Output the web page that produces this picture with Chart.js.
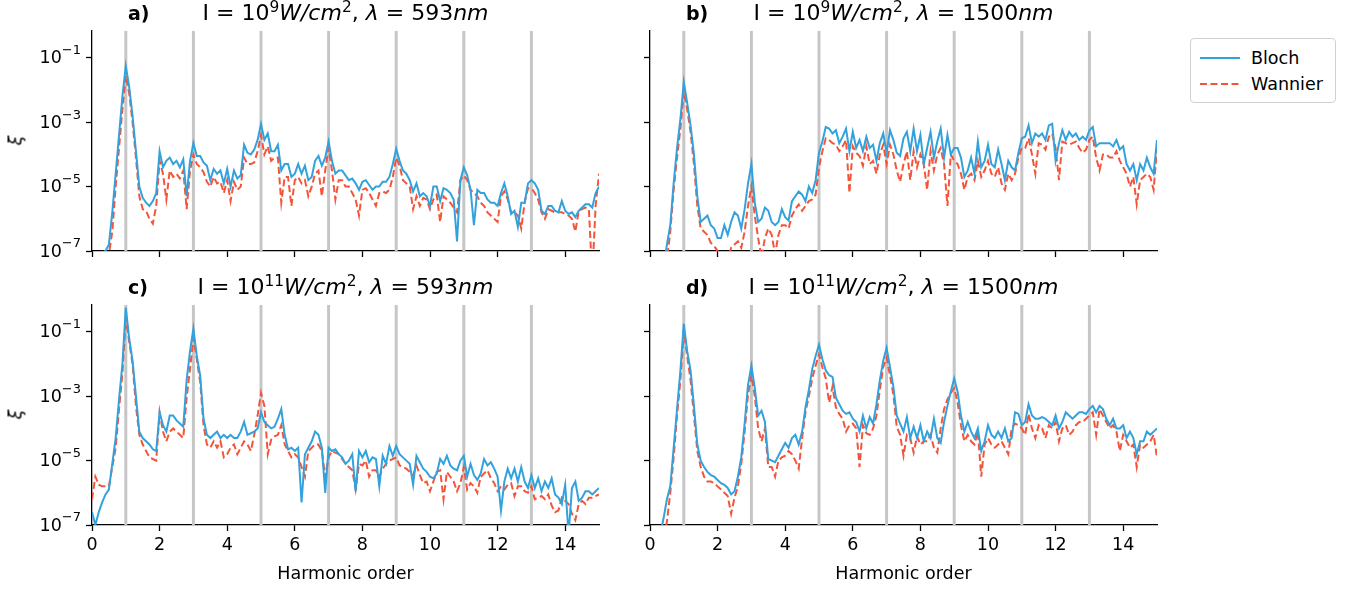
<!DOCTYPE html>
<html>
<head>
<meta charset="utf-8">
<script src="https://cdn.jsdelivr.net/npm/chart.js@4.4.1/dist/chart.umd.min.js"></script>
<style>
  body { margin: 0; background: #fff; }
  #figure { position: relative; width: 1356px; height: 589px; overflow: hidden;
            font-family: "DejaVu Sans", sans-serif; color: #000; background: #fff; }
  .panel { position: absolute; }
  .title { position: absolute; width: 507px; text-align: center; font-size: 22px;
           line-height: 26px; white-space: nowrap; }
  .title sup { font-size: 0.7em; line-height: 0; vertical-align: 0.5em; }
  .tag { position: absolute; font-size: 19px; font-weight: bold; line-height: 24px; }
  .ylabel { position: absolute; width: 30px; text-align: center; font-size: 18px;
            font-style: italic; transform: rotate(-90deg); }
  .xlabel { position: absolute; width: 507px; text-align: center; font-size: 17.5px; line-height: 22px; }
  .legend { position: absolute; left: 1190px; top: 38px; width: 144px; height: 63px;
            border: 1px solid #d0d0d0; border-radius: 4px; font-size: 17.5px; }
  .legend .row { position: absolute; left: 8px; height: 22px; line-height: 22px; }
  .legend svg { position: absolute; left: 0; top: 0; }
  .legend span { position: absolute; left: 52px; white-space: nowrap; }
</style>
</head>
<body>
<div id="figure"></div>
<script>
// sampling grid of the spectra (harmonic order, step 0.1)
const harmonicOrder = Array.from({ length: 151 }, (_, i) => i / 10);
const oddHarmonics = [1, 3, 5, 7, 9, 11, 13];
const xTickValues = [0, 2, 4, 6, 8, 10, 12, 14];
const yTickValues = [1e-7, 1e-5, 1e-3, 1e-1];
const yTickExponents = ["−7", "−5", "−3", "−1"];

// log10 of xi
// a) I = 1e9 W/cm2, 593 nm
const aBloch = [
  -7.6,-7.5,-7.3,-7.05,-7.0,-6.8,-5.8,-4.6,-3.4,-2.2,
  -1.25,-1.9,-2.8,-3.9,-5.0,-5.35,-5.5,-5.6,-5.45,-5.2,
  -3.9,-4.4,-4.2,-4.1,-4.3,-4.2,-4.4,-4.15,-5.3,-4.2,
  -3.65,-4.05,-4.05,-4.25,-4.35,-4.8,-4.45,-4.6,-4.5,-4.9,
  -4.45,-5.0,-4.5,-4.75,-4.65,-3.7,-3.95,-4.0,-3.85,-3.55,
  -3.05,-3.55,-3.35,-3.9,-3.9,-3.7,-4.5,-4.3,-4.3,-4.7,
  -4.6,-4.3,-4.6,-4.35,-4.8,-4.7,-4.2,-4.05,-4.35,-4.1,
  -3.6,-4.2,-4.6,-4.5,-4.5,-4.65,-4.8,-4.75,-4.9,-5.1,
  -4.85,-4.8,-4.95,-5.1,-5.0,-5.0,-4.85,-4.85,-4.7,-4.3,
  -3.83,-4.2,-4.5,-4.6,-4.8,-5.15,-4.9,-5.3,-5.2,-5.3,
  -5.6,-5.0,-5.0,-5.45,-5.05,-5.1,-5.2,-5.4,-6.7,-4.8,
  -4.4,-4.65,-5.1,-6.2,-5.1,-5.2,-5.2,-5.4,-5.5,-5.5,
  -5.6,-5.2,-4.9,-5.3,-5.85,-5.75,-6.25,-5.5,-5.5,-4.9,
  -4.8,-4.9,-5.1,-5.75,-5.85,-5.6,-5.6,-5.75,-5.8,-5.45,
  -5.75,-5.85,-5.8,-5.95,-5.75,-5.65,-5.55,-5.55,-5.65,-5.2,
  -5.0
];
const aWannier = [
  -8,-8,-8,-7.6,-7.3,-7.1,-6.4,-5.0,-3.8,-2.6,
  -1.55,-2.1,-3.0,-4.1,-5.3,-5.7,-5.75,-6.0,-6.15,-5.6,
  -4.2,-4.6,-5.4,-4.5,-4.7,-4.6,-4.75,-4.5,-5.7,-4.5,
  -4.0,-4.3,-4.4,-4.55,-4.85,-5.0,-4.7,-4.9,-4.85,-5.2,
  -4.8,-5.45,-4.85,-5.1,-5.0,-4.1,-4.3,-4.3,-4.25,-3.9,
  -3.4,-4.0,-3.75,-4.2,-4.1,-4.1,-5.5,-4.7,-4.7,-5.6,
  -4.8,-4.7,-4.9,-4.8,-5.3,-5.0,-4.6,-4.5,-5.3,-4.5,
  -3.8,-4.5,-5.4,-4.8,-4.8,-5.0,-5.0,-5.2,-5.4,-5.9,
  -5.1,-5.05,-5.2,-5.4,-5.6,-5.2,-5.15,-5.2,-5.1,-4.7,
  -4.1,-4.35,-4.8,-4.9,-5.0,-5.7,-5.3,-5.6,-5.35,-5.4,
  -5.7,-5.4,-5.25,-6.1,-5.3,-5.4,-5.5,-5.65,-5.8,-4.8,
  -4.65,-4.8,-5.1,-5.2,-5.3,-5.5,-5.6,-5.8,-5.9,-6.0,
  -6.1,-5.3,-5.15,-5.4,-5.8,-5.8,-5.9,-6.3,-5.5,-5.05,
  -5.05,-5.2,-5.4,-5.8,-6.0,-5.7,-5.75,-5.8,-5.8,-5.8,
  -5.85,-5.9,-6.0,-6.4,-5.75,-5.7,-5.65,-5.7,-7.8,-5.6,
  -4.6
];
// b) I = 1e9 W/cm2, 1500 nm
const bBloch = [
  -8,-8,-8,-8,-7.5,-6.8,-6.2,-4.9,-3.8,-2.9,
  -1.75,-2.4,-3.1,-4.0,-5.3,-6.1,-6.0,-5.9,-6.2,-6.3,
  -6.6,-6.6,-6.2,-6.5,-6.1,-5.8,-5.9,-6.3,-5.7,-4.9,
  -4.3,-5.5,-6.1,-6.0,-5.65,-5.75,-6.1,-6.2,-6.1,-5.7,
  -5.95,-6.05,-5.45,-5.3,-5.15,-5.25,-5.45,-5.0,-5.2,-4.8,
  -3.95,-3.6,-3.15,-3.2,-3.35,-3.25,-3.65,-3.45,-3.2,-3.9,
  -3.3,-3.8,-3.55,-3.9,-3.45,-3.8,-3.7,-4.2,-3.65,-3.35,
  -3.95,-3.25,-3.55,-3.95,-4.05,-3.5,-3.3,-3.9,-3.2,-3.9,
  -3.4,-4.3,-3.8,-3.3,-4.1,-3.6,-3.2,-4.1,-3.4,-4.0,
  -3.8,-3.8,-4.1,-4.7,-4.5,-4.1,-4.6,-3.6,-4.4,-4.2,
  -3.7,-4.3,-4.4,-3.85,-4.3,-4.8,-4.2,-4.4,-4.5,-3.95,
  -3.5,-3.45,-3.1,-3.65,-3.35,-3.45,-3.35,-3.55,-3.1,-3.05,
  -4.2,-3.65,-3.25,-3.55,-3.3,-3.45,-3.35,-3.55,-3.45,-3.55,
  -3.25,-3.15,-3.75,-3.65,-3.65,-3.65,-3.65,-3.75,-3.55,-3.85,
  -3.75,-4.3,-4.5,-4.3,-4.8,-4.3,-4.5,-4.1,-4.4,-4.6,
  -3.55
];
const bWannier = [
  -8,-8,-8,-8,-8,-7.3,-6.4,-5.1,-4.1,-3.2,
  -2.05,-2.6,-3.3,-4.3,-5.6,-6.3,-6.4,-6.5,-6.75,-6.85,
  -7.0,-7.2,-7.1,-7.3,-6.9,-6.8,-6.7,-6.9,-6.4,-5.6,
  -5.0,-5.9,-6.6,-7.2,-6.6,-6.3,-6.5,-7.1,-6.5,-6.2,
  -6.2,-6.3,-5.9,-5.7,-5.55,-5.75,-5.6,-5.45,-5.4,-5.25,
  -4.4,-3.9,-3.5,-3.55,-3.65,-3.7,-3.9,-3.75,-3.55,-5.2,
  -3.75,-3.95,-4.05,-4.35,-3.75,-4.3,-4.2,-4.6,-4.0,-3.7,
  -4.3,-3.7,-4.0,-4.5,-4.85,-4.3,-3.9,-4.8,-3.9,-4.4,
  -4.0,-4.3,-5.1,-3.9,-4.5,-4.0,-3.8,-4.3,-5.6,-4.0,
  -4.2,-4.3,-4.6,-5.1,-4.7,-4.6,-4.8,-4.2,-4.7,-4.5,
  -4.2,-4.6,-4.7,-4.4,-4.9,-5.1,-4.6,-4.8,-4.6,-4.1,
  -3.8,-3.8,-3.5,-4.0,-4.6,-3.65,-3.7,-3.85,-3.45,-3.35,
  -3.8,-4.8,-3.6,-3.65,-3.7,-3.65,-3.6,-3.8,-3.95,-3.85,
  -3.55,-3.45,-4.1,-4.5,-4.0,-4.0,-4.1,-4.1,-3.9,-4.2,
  -4.4,-4.6,-5.0,-4.7,-5.55,-4.8,-4.7,-4.6,-4.7,-5.1,
  -3.8
];
// c) I = 1e11 W/cm2, 593 nm
const cBloch = [
  -6.6,-7.0,-6.6,-6.3,-6.05,-5.9,-5.1,-4.3,-3.1,-2.0,
  -0.25,-1.2,-1.9,-3.0,-4.1,-4.3,-4.4,-4.5,-4.65,-4.7,
  -3.5,-3.9,-4.1,-3.6,-3.6,-3.75,-3.85,-3.95,-2.5,-1.6,
  -0.9,-1.75,-2.35,-3.7,-4.2,-4.3,-4.2,-4.1,-4.3,-4.2,
  -4.3,-4.2,-4.3,-4.3,-4.1,-3.8,-4.2,-4.15,-4.1,-4.0,
  -3.5,-3.8,-3.9,-4.0,-3.95,-3.7,-3.4,-4.2,-4.65,-4.6,
  -4.7,-4.6,-6.3,-4.8,-4.6,-4.4,-4.1,-4.2,-4.6,-6.0,
  -4.6,-4.7,-4.65,-4.8,-4.9,-5.1,-5.0,-4.8,-5.95,-4.7,
  -4.9,-4.7,-5.05,-4.9,-4.95,-5.8,-4.85,-5.1,-4.55,-4.85,
  -4.55,-4.8,-4.9,-5.0,-5.1,-5.75,-4.85,-5.05,-5.25,-5.35,
  -5.5,-5.55,-5.4,-4.95,-5.1,-4.85,-5.15,-5.25,-5.3,-5.0,
  -4.85,-5.5,-5.1,-5.45,-5.6,-5.4,-4.95,-5.15,-5.05,-5.25,
  -5.5,-6.55,-5.65,-5.25,-5.55,-5.25,-5.65,-5.2,-5.65,-5.85,
  -5.45,-5.85,-5.55,-5.95,-5.65,-5.85,-5.55,-6.05,-6.15,-6.35,
  -5.75,-7.3,-5.85,-5.65,-6.25,-6.15,-5.95,-5.95,-6.05,-5.95,
  -5.85
];
const cWannier = [
  -6.2,-5.5,-5.75,-5.8,-5.8,-5.8,-5.2,-4.6,-3.4,-2.3,
  -0.55,-1.3,-2.0,-3.3,-4.2,-4.5,-4.7,-4.9,-4.95,-5.0,
  -3.5,-4.1,-4.4,-4.1,-4.0,-4.1,-4.2,-4.3,-3.05,-2.15,
  -1.2,-1.85,-2.55,-3.9,-4.5,-4.6,-4.4,-4.6,-4.4,-4.9,
  -4.8,-4.6,-4.5,-4.8,-4.6,-4.4,-4.5,-4.7,-4.2,-3.6,
  -2.9,-3.3,-4.8,-4.35,-4.25,-4.2,-3.9,-4.5,-4.7,-4.9,
  -4.8,-4.9,-5.2,-5.5,-4.7,-4.6,-4.5,-4.5,-4.7,-5.5,
  -4.9,-4.7,-4.75,-4.8,-4.95,-5.1,-5.2,-5.3,-5.9,-5.1,
  -5.15,-5.0,-5.5,-5.3,-5.3,-5.5,-5.25,-5.1,-5.0,-4.95,
  -4.9,-5.15,-5.2,-5.25,-5.35,-5.45,-5.15,-5.45,-5.7,-5.65,
  -5.95,-5.65,-5.35,-5.3,-6.2,-5.35,-5.5,-5.65,-5.95,-5.7,
  -5.2,-5.9,-5.7,-5.8,-6.0,-5.5,-5.4,-5.3,-5.55,-5.7,
  -5.95,-5.8,-5.9,-5.75,-5.7,-6.1,-5.8,-5.8,-5.95,-6.0,
  -5.8,-6.2,-6.15,-6.1,-6.2,-6.05,-6.4,-6.6,-6.55,-6.15,
  -6.25,-6.35,-6.65,-6.85,-6.35,-6.25,-6.35,-6.15,-6.15,-6.1,
  -6.05
];
// d) I = 1e11 W/cm2, 1500 nm
const dBloch = [
  -8,-8,-8,-7.3,-6.8,-6.2,-5.8,-4.6,-3.4,-2.2,
  -0.75,-1.6,-2.2,-3.3,-4.5,-5.0,-5.2,-5.35,-5.45,-5.5,
  -5.6,-5.7,-5.75,-5.85,-6.05,-5.95,-5.5,-4.9,-3.85,-2.65,
  -2.05,-2.75,-3.6,-3.45,-3.8,-4.95,-5.0,-5.05,-4.85,-4.65,
  -4.45,-4.6,-4.3,-4.2,-4.5,-4.1,-3.35,-2.8,-2.15,-1.75,
  -1.4,-1.85,-2.2,-2.35,-2.4,-3.05,-3.25,-3.45,-3.55,-3.5,
  -3.7,-3.8,-4.1,-3.6,-4.0,-3.65,-3.85,-3.25,-2.5,-1.9,
  -1.5,-2.1,-2.7,-3.6,-3.85,-4.1,-3.65,-4.3,-3.95,-4.3,
  -3.9,-4.4,-4.1,-4.3,-3.7,-4.3,-4.45,-3.8,-3.3,-2.85,
  -2.45,-2.85,-3.6,-4.1,-3.8,-4.1,-4.3,-4.0,-4.7,-4.4,
  -3.9,-4.2,-4.3,-4.1,-4.3,-4.0,-4.4,-4.3,-3.5,-3.55,
  -3.9,-3.8,-3.25,-3.6,-3.7,-3.7,-3.65,-3.7,-3.8,-3.9,
  -3.6,-4.0,-3.8,-3.5,-3.6,-3.7,-3.6,-3.5,-3.5,-3.55,
  -3.4,-3.3,-3.5,-3.3,-3.4,-3.7,-3.9,-3.7,-4.0,-4.0,
  -3.9,-4.3,-4.1,-4.3,-4.8,-4.4,-4.4,-4.1,-4.2,-4.1,
  -4.0
];
const dWannier = [
  -8,-8,-8,-8,-7.5,-6.9,-6.0,-4.9,-3.6,-2.5,
  -1.0,-1.75,-2.5,-3.6,-4.7,-5.2,-5.5,-5.65,-5.65,-5.7,
  -5.8,-5.9,-6.0,-6.1,-6.65,-6.15,-5.8,-5.1,-4.1,-2.95,
  -2.35,-3.0,-4.0,-4.4,-4.0,-5.2,-5.2,-5.5,-5.0,-4.9,
  -4.85,-4.7,-4.8,-5.0,-5.25,-4.3,-3.5,-3.0,-2.45,-2.05,
  -1.7,-2.1,-2.45,-3.2,-2.7,-3.35,-3.55,-3.7,-4.1,-3.9,
  -3.85,-4.0,-5.2,-3.9,-4.15,-4.2,-4.0,-3.6,-2.8,-2.1,
  -1.8,-2.35,-2.95,-3.95,-4.2,-4.85,-4.2,-4.3,-4.75,-4.25,
  -4.5,-4.4,-4.4,-4.2,-4.6,-4.75,-4.0,-3.4,-3.1,-2.9,
  -2.75,-3.2,-3.9,-4.4,-4.2,-4.4,-4.5,-4.1,-5.5,-4.5,
  -4.3,-4.5,-4.6,-4.5,-4.4,-4.6,-4.8,-4.0,-3.85,-3.9,
  -4.0,-4.2,-3.55,-4.0,-4.3,-3.9,-4.0,-4.3,-3.9,-4.0,
  -3.8,-4.4,-4.0,-3.9,-4.2,-4.1,-3.9,-3.8,-3.8,-3.7,
  -3.6,-3.5,-4.2,-3.4,-3.6,-3.8,-4.0,-3.9,-4.1,-4.7,
  -4.2,-4.4,-4.6,-4.5,-5.2,-4.5,-4.6,-4.5,-4.4,-4.2,
  -4.9
];

const blochColor = "#33a2dc";
const wannierColor = "#f4553a";
const fontFamily = "DejaVu Sans";

const panels = [
  { tag: "a)", exp: "9", lambda: "593", bloch: aBloch, wannier: aWannier, left: 92, top: 31, showX: false, showY: true },
  { tag: "b)", exp: "9", lambda: "1500", bloch: bBloch, wannier: bWannier, left: 650, top: 31, showX: false, showY: false },
  { tag: "c)", exp: "11", lambda: "593", bloch: cBloch, wannier: cWannier, left: 92, top: 305, showX: true, showY: true },
  { tag: "d)", exp: "11", lambda: "1500", bloch: dBloch, wannier: dWannier, left: 650, top: 305, showX: true, showY: false },
];

const plotW = 507, plotH = 220;
const padL = 70, padT = 16, padR = 14, padB = 62;

// grey markers at the odd harmonics
const harmonicLines = {
  id: "harmonicLines",
  beforeDatasetsDraw(chart) {
    const { ctx, chartArea, scales } = chart;
    ctx.save();
    ctx.strokeStyle = "#c6c6c6";
    ctx.lineWidth = 3;
    for (const h of oddHarmonics) {
      const x = scales.x.getPixelForValue(h);
      ctx.beginPath();
      ctx.moveTo(x, chartArea.top);
      ctx.lineTo(x, chartArea.bottom);
      ctx.stroke();
    }
    ctx.restore();
  },
};

// "10" with a raised exponent, like matplotlib's log labels
const logTickLabels = {
  id: "logTickLabels",
  afterDraw(chart, args, opts) {
    if (!opts.show) return;
    const { ctx, chartArea, scales } = chart;
    const right = chartArea.left - 6 - 5;
    ctx.save();
    ctx.fillStyle = "#000";
    ctx.textBaseline = "middle";
    yTickValues.forEach((v, i) => {
      const y = scales.y.getPixelForValue(v);
      ctx.font = "13px " + fontFamily;
      const expW = ctx.measureText(yTickExponents[i]).width;
      ctx.textAlign = "left";
      ctx.fillText(yTickExponents[i], right - expW, y - 7);
      ctx.font = "17.5px " + fontFamily;
      ctx.textAlign = "right";
      ctx.fillText("10", right - expW, y + 1);
    });
    ctx.restore();
  },
};

const fig = document.getElementById("figure");

function addDiv(cls, html, style) {
  const d = document.createElement("div");
  d.className = cls;
  d.innerHTML = html;
  Object.assign(d.style, style);
  fig.appendChild(d);
  return d;
}

for (const p of panels) {
  const wrap = document.createElement("div");
  wrap.className = "panel";
  wrap.style.left = (p.left - padL) + "px";
  wrap.style.top = (p.top - padT) + "px";
  const canvas = document.createElement("canvas");
  canvas.width = padL + plotW + padR;
  canvas.height = padT + plotH + padB;
  wrap.appendChild(canvas);
  fig.appendChild(wrap);

  new Chart(canvas.getContext("2d"), {
    type: "line",
    data: {
      datasets: [
        {
          label: "Bloch",
          data: harmonicOrder.map((x, i) => ({ x: x, y: Math.pow(10, p.bloch[i]) })),
          borderColor: blochColor,
          borderWidth: 2,
          pointRadius: 0,
          tension: 0,
        },
        {
          label: "Wannier",
          data: harmonicOrder.map((x, i) => ({ x: x, y: Math.pow(10, p.wannier[i]) })),
          borderColor: wannierColor,
          borderWidth: 2,
          borderDash: [7, 3.5],
          pointRadius: 0,
          tension: 0,
        },
      ],
    },
    options: {
      responsive: false,
      animation: false,
      devicePixelRatio: 1,
      layout: { padding: { top: padT, right: padR, left: 0, bottom: 0 } },
      plugins: {
        legend: { display: false },
        tooltip: { enabled: false },
        logTickLabels: { show: p.showY },
      },
      scales: {
        x: {
          type: "linear",
          min: 0,
          max: 15,
          afterBuildTicks: (s) => { s.ticks = xTickValues.map((v) => ({ value: v })); },
          afterFit: (s) => { s.height = padB; s.paddingLeft = 0; s.paddingRight = 0; },
          ticks: {
            display: p.showX,
            autoSkip: false,
            maxRotation: 0,
            padding: 4,
            color: "#000",
            font: { family: fontFamily, size: 17.5 },
          },
          grid: { drawOnChartArea: false, drawTicks: true, tickLength: 6, tickWidth: 1.3, tickColor: "#000" },
          border: { display: true, color: "#000", width: 1.3 },
        },
        y: {
          type: "logarithmic",
          min: 1e-7,
          max: 0.68,
          afterBuildTicks: (s) => { s.ticks = yTickValues.map((v) => ({ value: v })); },
          afterFit: (s) => { s.width = padL; s.paddingTop = 0; s.paddingBottom = 0; },
          ticks: { display: false },
          grid: { drawOnChartArea: false, drawTicks: true, tickLength: 6, tickWidth: 1.3, tickColor: "#000" },
          border: { display: true, color: "#000", width: 1.3 },
        },
      },
    },
    plugins: [harmonicLines, logTickLabels],
  });

  // panel title and tag
  addDiv("title",
    'I = 10<sup>' + p.exp + '</sup><i>W/cm</i><sup>2</sup>, <i>λ</i> = ' + p.lambda + '<i>nm</i>',
    { left: p.left + "px", top: (p.top - 31) + "px" });
  addDiv("tag", p.tag, { left: (p.left + 36) + "px", top: (p.top - 30) + "px" });

  if (p.showY) {
    addDiv("ylabel", "ξ", { left: "0px", top: (p.top + plotH / 2 - 11) + "px" });
  }
  if (p.showX) {
    addDiv("xlabel", "Harmonic order", { left: p.left + "px", top: (p.top + plotH + 37) + "px" });
  }
}

// legend
const legend = addDiv("legend", "", {});
legend.innerHTML =
  '<div class="row" style="top:8px;width:130px">' +
  '<svg width="42" height="22"><line x1="1" y1="11" x2="41" y2="11" stroke="' + blochColor + '" stroke-width="2"/></svg>' +
  '<span>Bloch</span></div>' +
  '<div class="row" style="top:34px;width:130px">' +
  '<svg width="42" height="22"><line x1="1" y1="11" x2="41" y2="11" stroke="' + wannierColor + '" stroke-width="2" stroke-dasharray="7 3.5"/></svg>' +
  '<span>Wannier</span></div>';
</script>
</body>
</html>
